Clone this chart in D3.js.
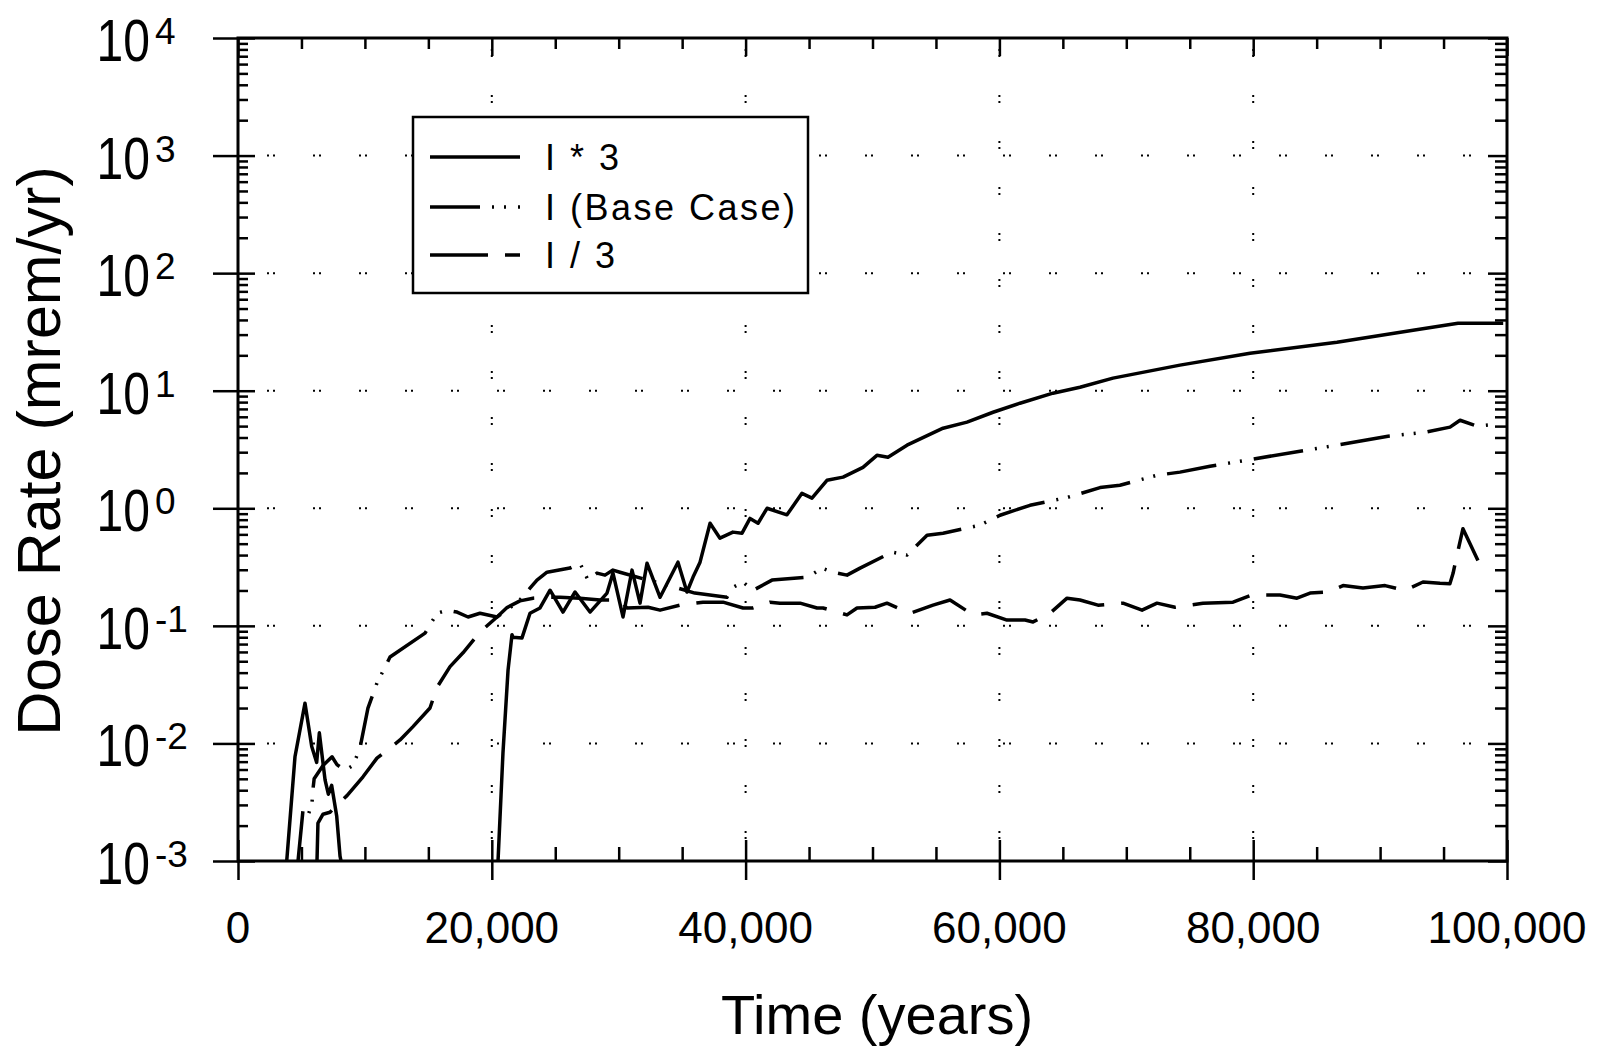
<!DOCTYPE html>
<html>
<head>
<meta charset="utf-8">
<script src="https://cdn.jsdelivr.net/npm/d3@7"></script>
<style>
  body { margin: 0; background: #fff; }
  svg { display: block; }
  text { font-family: "Liberation Sans", Arial, Helvetica, sans-serif; fill: #000; }
</style>
</head>
<body>
<div id="chart"></div>
<script>
// ---- data (time in years, dose in mrem/yr) ----
var timeTimes3 = [3840, 4490, 5280, 5810, 6200, 6410, 6860, 7120, 7380, 7780, 8040, 8120, 14000,
  20490, 20880, 21280, 21590, 21670, 22380, 23010, 23800, 24590, 25610, 26560, 27740, 29080, 29550,
  30340, 31050, 31680, 32230, 33260, 34670, 35380, 35860, 36410, 37200, 37980, 39000, 39720, 40350,
  40980, 41690, 43260, 44440, 45230, 46410, 47680, 49250, 50350, 51220, 52720, 55560, 57450, 59500,
  61620, 64220, 66350, 68950, 74230, 79750, 86600, 92600, 96140, 99700];
var doseTimes3 = [0.001, 0.0077, 0.022, 0.0094, 0.0069, 0.0123, 0.0049, 0.0037, 0.0044, 0.0024, 0.0011, 0.001, null,
  0.001, 0.0083, 0.042, 0.084, 0.080, 0.079, 0.128, 0.142, 0.201, 0.131, 0.194, 0.131, 0.19, 0.281,
  0.119, 0.298, 0.156, 0.341, 0.175, 0.348, 0.194, 0.26, 0.348, 0.746, 0.557, 0.627, 0.614, 0.82,
  0.746, 1.0, 0.88, 1.34, 1.22, 1.73, 1.84, 2.23, 2.82, 2.72, 3.44, 4.80, 5.40, 6.56,
  7.83, 9.53, 10.7, 12.8, 16.5, 20.8, 25.8, 32.7, 37.5, 37.5];

var timeBase = [4730, 5120, 5500, 5830, 5900, 6000, 6700, 7410, 7800, 8430, 9060, 9610, 10240, 10950,
  11980, 14740, 15680, 16470, 17260, 18130, 19070, 20410, 21200, 22220, 23010, 23560, 24350, 26160,
  26950, 27580, 28290, 28920, 29550, 30100, 32000, 34000, 36000, 38530, 39010, 39800, 40580, 42080,
  44920, 46020, 46890, 47990, 49020, 51540, 52720, 54300, 55560, 58470, 60050, 62410, 65400, 67930,
  69500, 72420, 74230, 76600, 79510, 83690, 86600, 90620, 93540, 95510, 96300, 97640, 98500];
var doseBase = [0.001, 0.0027, 0.0024, 0.0031, 0.0040, 0.0050, 0.0065, 0.0077, 0.0066, 0.0059, 0.0065, 0.0091, 0.020, 0.0326,
  0.0543, 0.0868, 0.128, 0.136, 0.131, 0.119, 0.128, 0.119, 0.136, 0.166, 0.209, 0.245, 0.286, 0.31,
  0.341, 0.245, 0.281, 0.27, 0.298, 0.286, 0.25, 0.22, 0.19, 0.175, 0.213, 0.236, 0.20, 0.245,
  0.26, 0.31, 0.286, 0.27, 0.31, 0.424, 0.40, 0.59, 0.614, 0.718, 0.873, 1.06, 1.24, 1.50,
  1.57, 1.91, 2.03, 2.28, 2.57, 3.06, 3.44, 4.1, 4.44, 4.90, 5.61, 4.99, 5.1];

var timeThird = [6225, 6300, 6700, 7250, 7800, 8590, 9850, 10950, 12770, 13790, 15130, 15680, 16710,
  17730, 19070, 20410, 21200, 22220, 23250, 24350, 25370, 26950, 28530, 30100, 30650, 32310, 33260,
  34830, 36640, 38220, 39800, 40580, 41920, 42710, 44290, 45630, 46100, 47990, 48780, 50200, 51140,
  52960, 54770, 56110, 57920, 59020, 60600, 62020, 62650, 63990, 65330, 66350, 67770, 69740, 71240,
  72420, 73840, 76040, 78410, 79900, 82110, 83450, 84480, 85890, 87080, 88650, 90390, 91960, 93380,
  94720, 95500, 95750, 96060, 96530, 97710];
var doseThird = [0.001, 0.0021, 0.0025, 0.0026, 0.0030, 0.0036, 0.0052, 0.0075, 0.0107, 0.0139, 0.020, 0.030, 0.045,
  0.059, 0.0885, 0.119, 0.143, 0.163, 0.172, 0.175, 0.175, 0.172, 0.166, 0.166, 0.142, 0.144, 0.136,
  0.15, 0.159, 0.159, 0.142, 0.142, 0.159, 0.156, 0.156, 0.142, 0.142, 0.124, 0.142, 0.144, 0.156,
  0.128, 0.15, 0.166, 0.124, 0.128, 0.112, 0.112, 0.108, 0.128, 0.172, 0.166, 0.15, 0.156, 0.136,
  0.156, 0.144, 0.156, 0.159, 0.183, 0.183, 0.172, 0.19, 0.194, 0.22, 0.21, 0.22, 0.20, 0.236,
  0.23, 0.228, 0.28, 0.40, 0.67, 0.36];

var xMajorTicks = [0, 20000, 40000, 60000, 80000, 100000];
var xMinorStep = 5000;
var yExponents = [-3, -2, -1, 0, 1, 2, 3, 4];
var legendLabels = ["I * 3", "I (Base Case)", "I / 3"];

var width = 1598, height = 1047;
var plotLeft = 238, plotRight = 1507, plotTop = 38, plotBottom = 861;

var x = d3.scaleLinear().domain([0, 100000]).range([plotLeft, plotRight]);
var y = d3.scaleLog().domain([1e-3, 1e4]).range([plotBottom, plotTop]);

var svg = d3.select('#chart').append('svg')
    .attr('width', width)
    .attr('height', height);

// minor tick values
var xMinor = d3.range(0, 100001, xMinorStep).filter(function(v) { return v % 20000 !== 0; });
var yMajor = yExponents.map(function(e) { return Math.pow(10, e); });
var yMinor = [];
yExponents.slice(0, -1).forEach(function(e) {
  for (var k = 2; k <= 9; k++) yMinor.push(k * Math.pow(10, e));
});

// dotted grid at major ticks (pairs of dots)
var grid = svg.append('g').attr('stroke', '#000').attr('stroke-width', 2);
grid.selectAll('line.h')
  .data(yMajor.slice(1, -1))
  .enter().append('line')
  .attr('x1', plotLeft).attr('x2', plotRight)
  .attr('y1', function(d) { return y(d); }).attr('y2', function(d) { return y(d); })
  .attr('stroke-dasharray', '2,4,2,38')
  .attr('stroke-dashoffset', 17);
grid.selectAll('line.v')
  .data(xMajorTicks.slice(1, -1))
  .enter().append('line')
  .attr('y1', plotTop).attr('y2', plotBottom)
  .attr('x1', function(d) { return x(d); }).attr('x2', function(d) { return x(d); })
  .attr('stroke-dasharray', '2,4,2,38')
  .attr('stroke-dashoffset', 35);

// curves
svg.append('clipPath').attr('id', 'plot-clip')
  .append('rect').attr('x', plotLeft).attr('y', plotTop)
  .attr('width', plotRight - plotLeft).attr('height', plotBottom - plotTop);

var line = d3.line()
  .defined(function(d) { return d[1] != null; })
  .x(function(d) { return x(d[0]); })
  .y(function(d) { return y(d[1]); });

function pairs(ts, vs) { return ts.map(function(t, i) { return [t, vs[i]]; }); }

var series = [
  { data: pairs(timeTimes3, doseTimes3), dash: null },
  { data: pairs(timeBase, doseBase), dash: '50,12,2,10,2,12' },
  { data: pairs(timeThird, doseThird), dash: '58,17' }
];

svg.append('g').attr('clip-path', 'url(#plot-clip)')
  .selectAll('path')
  .data(series)
  .enter().append('path')
  .attr('d', function(d) { return line(d.data); })
  .attr('fill', 'none')
  .attr('stroke', '#000')
  .attr('stroke-width', 3.5)
  .attr('stroke-linejoin', 'round')
  .attr('stroke-dasharray', function(d) { return d.dash; });

// frame
svg.append('rect')
  .attr('x', plotLeft).attr('y', plotTop)
  .attr('width', plotRight - plotLeft).attr('height', plotBottom - plotTop)
  .attr('fill', 'none').attr('stroke', '#000').attr('stroke-width', 3);

// tick marks through d3 axes
function addAxis(axis, tx, ty) {
  var g = svg.append('g').attr('transform', 'translate(' + tx + ',' + ty + ')').call(axis);
  g.select('.domain').remove();
  g.selectAll('line').attr('stroke', '#000').attr('stroke-width', 2.5);
  g.selectAll('text').remove();
  return g;
}
// bottom
addAxis(d3.axisBottom(x).tickValues(xMajorTicks).tickSize(19), 0, plotBottom);
addAxis(d3.axisTop(x).tickValues(xMajorTicks).tickSize(21), 0, plotBottom);
addAxis(d3.axisTop(x).tickValues(xMinor).tickSize(14), 0, plotBottom);
// top
addAxis(d3.axisBottom(x).tickValues(xMajorTicks).tickSize(18), 0, plotTop);
addAxis(d3.axisBottom(x).tickValues(xMinor).tickSize(11), 0, plotTop);
// left
addAxis(d3.axisLeft(y).tickValues(yMajor).tickSize(25), plotLeft, 0);
addAxis(d3.axisRight(y).tickValues(yMajor).tickSize(17), plotLeft, 0);
addAxis(d3.axisRight(y).tickValues(yMinor).tickSize(10), plotLeft, 0);
// right
addAxis(d3.axisLeft(y).tickValues(yMajor).tickSize(19), plotRight, 0);
addAxis(d3.axisLeft(y).tickValues(yMinor).tickSize(12), plotRight, 0);

// x tick labels
svg.append('g').selectAll('text')
  .data(xMajorTicks)
  .enter().append('text')
  .attr('x', function(d) { return x(d); })
  .attr('y', 943)
  .attr('text-anchor', 'middle')
  .attr('font-size', 44)
  .text(d3.format(','));

// y tick labels: 10 with superscript exponent
var yl = svg.append('g').selectAll('g')
  .data(yExponents)
  .enter().append('g')
  .attr('transform', function(e) { return 'translate(0,' + y(Math.pow(10, e)) + ')'; });
yl.append('text')
  .attr('transform', 'translate(150,23) scale(0.8,1)')
  .attr('text-anchor', 'end')
  .attr('font-size', 60)
  .text('10');
yl.append('text')
  .attr('x', 155).attr('y', 6)
  .attr('text-anchor', 'start')
  .attr('font-size', 37)
  .text(function(e) { return e < 0 ? '-' + (-e) : String(e); });

// axis titles
svg.append('text')
  .attr('x', 877).attr('y', 1034)
  .attr('text-anchor', 'middle')
  .attr('font-size', 56)
  .text('Time (years)');
svg.append('text')
  .attr('transform', 'translate(60,451) rotate(-90)')
  .attr('text-anchor', 'middle')
  .attr('font-size', 61)
  .text('Dose Rate (mrem/yr)');

// legend
var legend = svg.append('g');
legend.append('rect')
  .attr('x', 413).attr('y', 117).attr('width', 395).attr('height', 176)
  .attr('fill', '#fff').attr('stroke', '#000').attr('stroke-width', 2.5);
var rows = legend.selectAll('g.row')
  .data(series.map(function(s, i) { return { dash: s.dash, label: legendLabels[i] }; }))
  .enter().append('g')
  .attr('transform', function(d, i) { return 'translate(0,' + [157, 207, 255][i] + ')'; });
rows.append('line')
  .attr('x1', 430).attr('x2', 520).attr('y1', 0).attr('y2', 0)
  .attr('stroke', '#000').attr('stroke-width', 3.5)
  .attr('stroke-dasharray', function(d) { return d.dash; });
rows.append('text')
  .attr('x', 545).attr('y', 13)
  .attr('font-size', 36)
  .attr('letter-spacing', 2.5)
  .text(function(d) { return d.label; });
</script>
</body>
</html>
